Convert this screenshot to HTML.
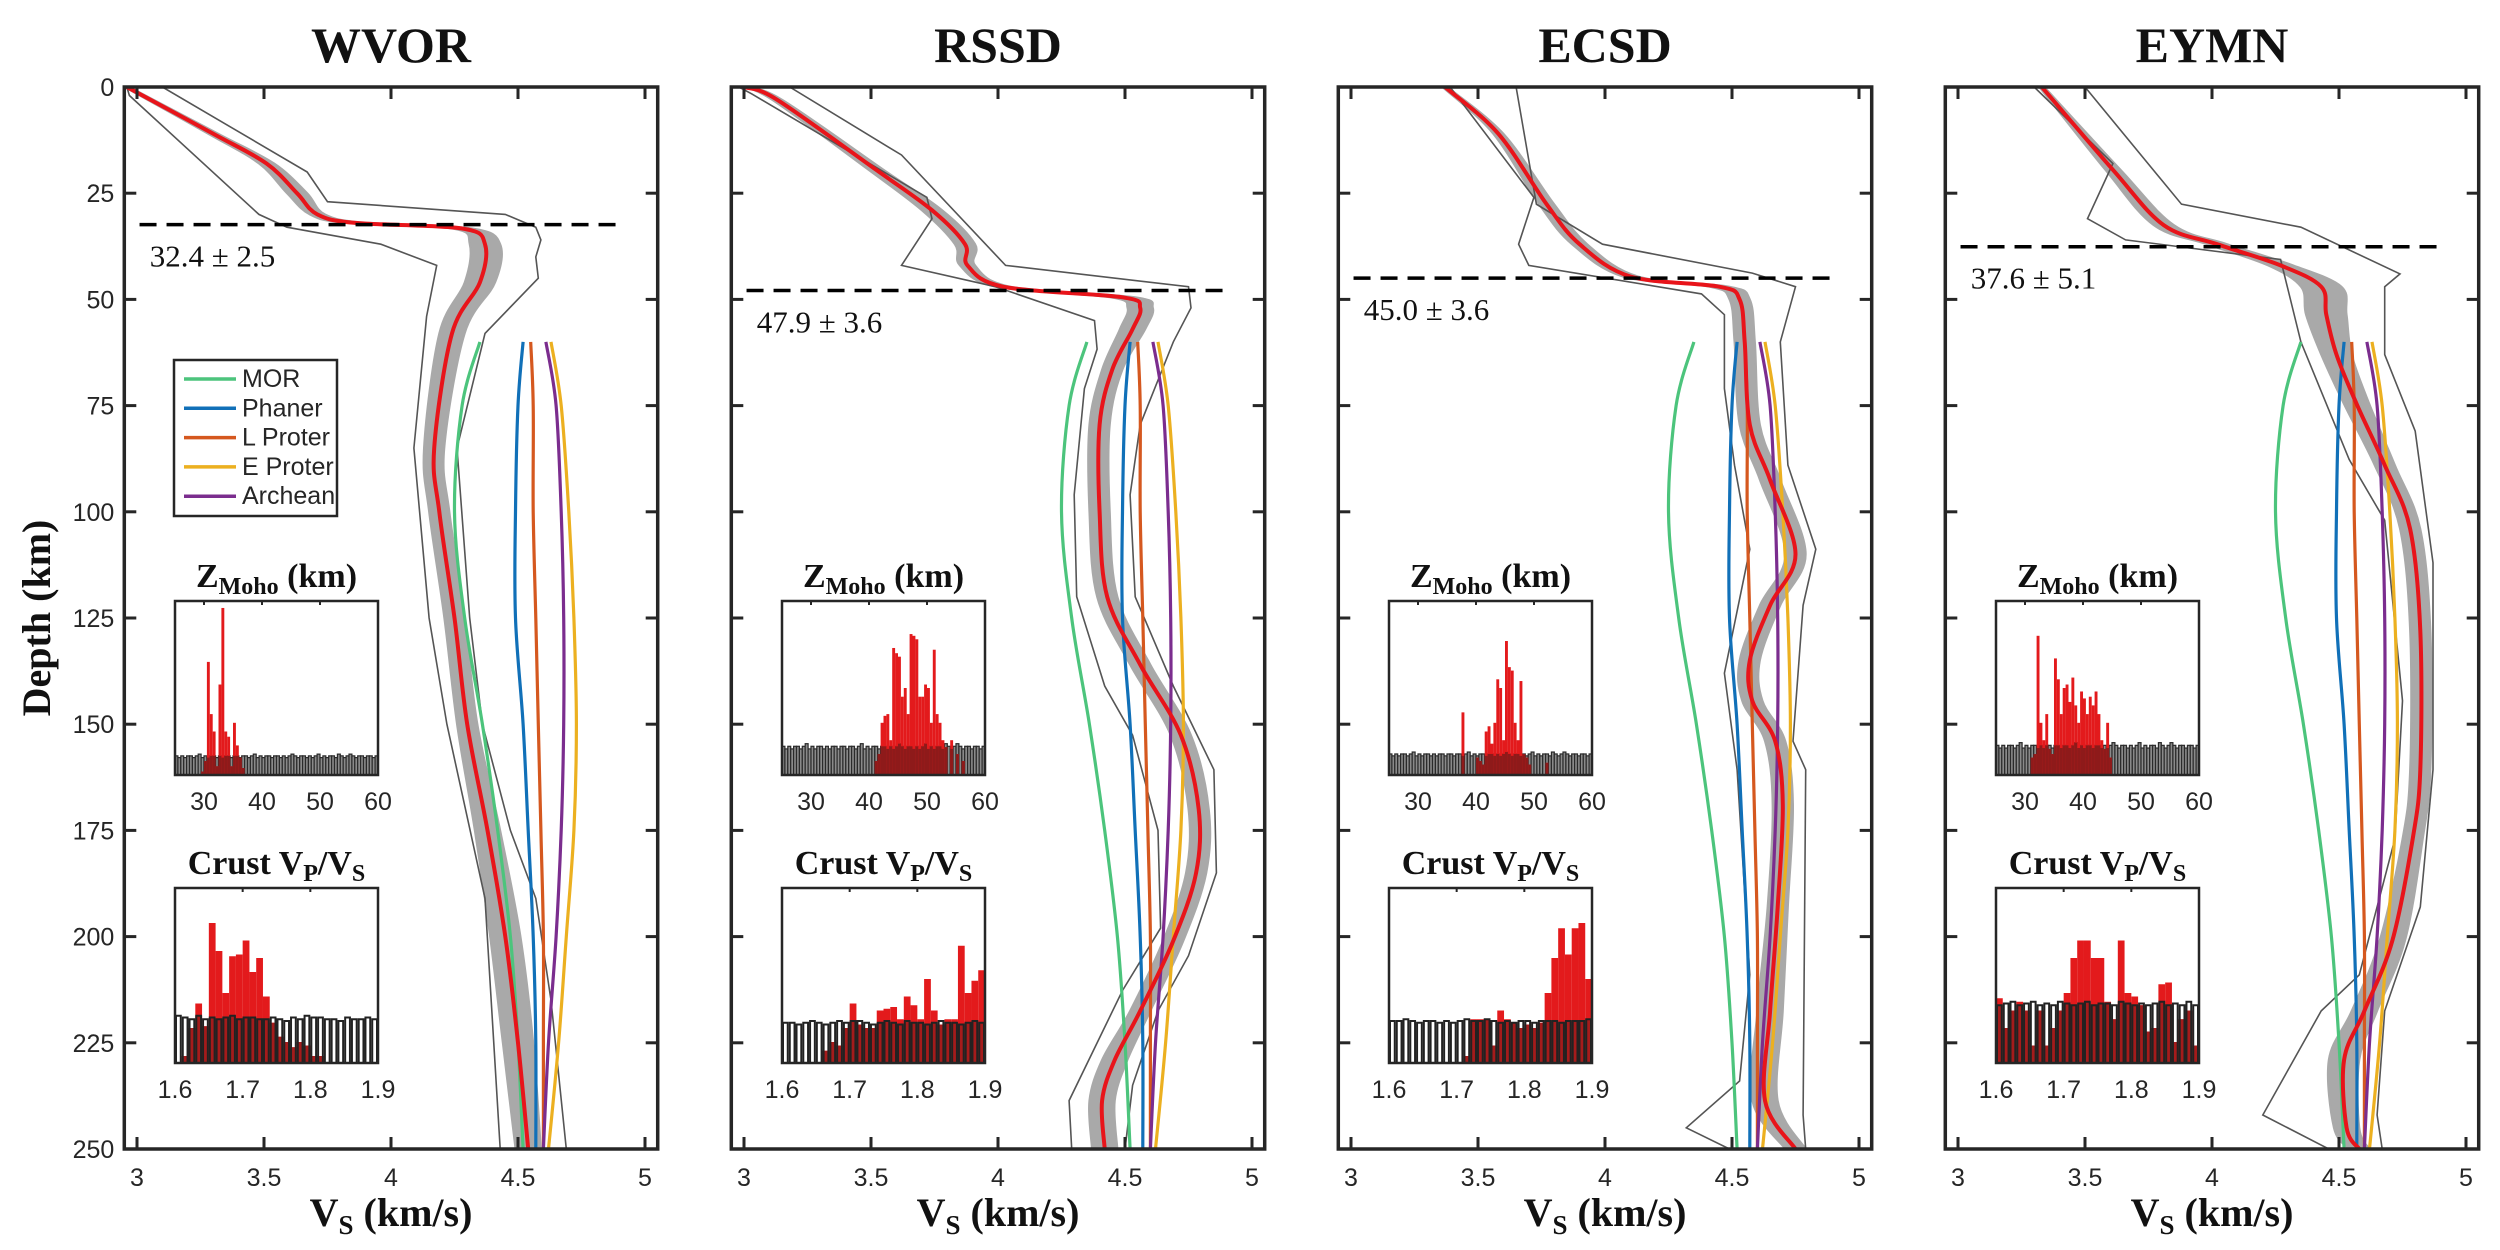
<!DOCTYPE html>
<html><head><meta charset="utf-8"><style>
html,body{margin:0;padding:0;background:#fff}
svg{display:block}
.tick{font-family:"Liberation Sans",sans-serif;font-size:25px;fill:#262626}
.ser{font-family:"Liberation Serif",serif;fill:#111}
</style></head><body>
<svg id="fig" width="2500" height="1250" viewBox="0 0 2500 1250" xmlns="http://www.w3.org/2000/svg">
<text class="ser" font-weight="bold" font-size="40" text-anchor="middle" transform="translate(50,618) rotate(-90)">Depth (km)</text>
</svg>
<script>
// ---------- data ----------
const stations = ["WVOR","RSSD","ECSD","EYMN"];
const mohoDepth = [32.4,47.9,45.0,37.6];
const mohoErr = [2.5,3.6,3.6,5.1];
const xTicks = [3,3.5,4,4.5,5];
const yTicks = [0,25,50,75,100,125,150,175,200,225,250];

const refDepth = [60,75,100,125,150,175,200,225,250];
const refNames = ["MOR","Phaner","L Proter","E Proter","Archean"];
const refMOR = [4.35,4.28,4.25,4.29,4.36,4.42,4.47,4.50,4.52];
const refPhaner = [4.52,4.50,4.49,4.49,4.52,4.54,4.56,4.57,4.57];
const refLProter = [4.55,4.56,4.56,4.57,4.58,4.59,4.60,4.60,4.60];
const refEProter = [4.63,4.67,4.70,4.72,4.73,4.72,4.69,4.66,4.62];
const refArchean = [4.61,4.65,4.67,4.68,4.68,4.67,4.65,4.62,4.60];
const refColors = ["#4cc47c","#1170b8","#d5581f","#ecb020","#7b2d8e"];

// WVOR
const d1 = [0,11,18,25,30,32,33.3,37,46,58,85,100,125,150,175,200,225,250];
const v1 = [2.96,3.30,3.51,3.63,3.71,3.86,4.28,4.37,4.35,4.24,4.17,4.19,4.25,4.30,4.38,4.45,4.50,4.54];
const b1 = [0.01,0.02,0.03,0.04,0.03,0.04,0.04,0.06,0.06,0.05,0.04,0.04,0.04,0.04,0.05,0.06,0.06,0.05];
const lo1d = [0,2,30,33,37,42,54,85,125,150,191,250];
const lo1v = [2.96,2.97,3.48,3.59,3.96,4.18,4.14,4.09,4.15,4.22,4.37,4.43];
const hi1d = [0,20,27,30,33,36,40,45,58,85,125,150,175,191,215,250];
const hi1v = [3.10,3.67,3.75,4.45,4.57,4.59,4.57,4.58,4.37,4.26,4.31,4.36,4.47,4.57,4.63,4.69];
// RSSD
const d2 = [0,3,19.5,29,37,42,47,49.5,52,57,66.5,79.5,100,120,136,152.6,170,185,201,217.5,229,238.6,250];
const v2 = [3.00,3.13,3.52,3.74,3.87,3.88,4.02,4.49,4.56,4.53,4.45,4.40,4.40,4.43,4.56,4.72,4.79,4.78,4.69,4.56,4.46,4.41,4.42];
const b2 = [0.01,0.02,0.03,0.04,0.04,0.03,0.03,0.05,0.05,0.05,0.04,0.04,0.04,0.04,0.04,0.04,0.04,0.04,0.04,0.04,0.05,0.05,0.05];
const lo2d = [0,1.6,26,31,42,47,55,61.7,71,96,120,141,152.6,175,198,212.7,238.6,250];
const lo2v = [2.98,3.03,3.72,3.74,3.62,3.99,4.38,4.39,4.34,4.30,4.31,4.42,4.53,4.63,4.64,4.49,4.28,4.29];
const hi2d = [0,16,42,47,52,60,79.5,96,120,141,160.7,185,204.5,217.5,235,250];
const hi2v = [3.18,3.62,4.03,4.75,4.76,4.69,4.56,4.52,4.54,4.69,4.85,4.86,4.75,4.63,4.53,4.50];
// ECSD
const d3 = [0,11,27.6,37,44.6,47,50,60,79.5,92.5,110,122,135,144.5,154,169,193,217.5,238.6,250];
const v3 = [3.37,3.58,3.77,3.90,4.10,4.45,4.53,4.55,4.57,4.65,4.75,4.65,4.57,4.58,4.67,4.70,4.68,4.65,4.63,4.75];
const b3 = [0.01,0.02,0.03,0.03,0.03,0.04,0.04,0.04,0.04,0.04,0.04,0.04,0.04,0.04,0.04,0.04,0.04,0.05,0.05,0.04];
const lo3d = [0,26,37,42,48.7,53.6,71,89,108.8,138,160.7,209,234,245,250];
const lo3v = [3.39,3.72,3.66,3.70,4.38,4.47,4.47,4.51,4.57,4.47,4.52,4.57,4.53,4.32,4.49];
const hi3d = [0,27.6,37,43.8,47,60,89,108.8,122,154,160.7,242,250];
const hi3v = [3.65,3.73,3.99,4.58,4.75,4.69,4.72,4.83,4.78,4.74,4.79,4.78,4.79];
// EYMN
const d4 = [0,19.5,32.5,37,42,47,53.6,63,74.7,89,104,128,160.7,177,201,217.5,229,245,250];
const v4 = [3.33,3.61,3.81,4.02,4.27,4.43,4.45,4.49,4.57,4.68,4.78,4.82,4.82,4.79,4.71,4.60,4.52,4.53,4.58];
const b4 = [0.01,0.03,0.04,0.04,0.05,0.08,0.08,0.06,0.05,0.04,0.04,0.04,0.04,0.04,0.05,0.05,0.06,0.05,0.04];
const lo4d = [0,18,31,36,40.6,60,87.7,102,144.5,177,209,217.5,242,250];
const lo4v = [3.30,3.61,3.51,3.66,4.27,4.35,4.54,4.68,4.75,4.72,4.58,4.43,4.20,4.46];
const hi4d = [0,27.6,33,44,47,63,81,112,160.7,193,217.5,242,250];
const hi4v = [3.50,3.88,4.35,4.74,4.68,4.68,4.80,4.87,4.87,4.82,4.68,4.65,4.67];

// Moho histograms: 0.5-km bins from 25 to 60
const zmPrior = [0.11,0.10,0.11,0.10,0.11,0.11,0.10,0.11,0.12,0.10,0.11,0.10,0.11,0.11,0.10,0.11,0.10,0.11,0.11,0.10,0.11,0.11,0.10,0.11,0.11,0.10,0.11,0.12,0.10,0.11,0.10,0.11,0.11,0.10,0.11,0.11,0.10,0.11,0.10,0.11,0.12,0.11,0.10,0.11,0.11,0.10,0.11,0.10,0.11,0.12,0.10,0.11,0.10,0.11,0.11,0.10,0.12,0.11,0.10,0.11,0.12,0.11,0.10,0.11,0.11,0.10,0.11,0.11,0.10,0.11];
const zmPriorScale = [1.0,1.5,1.1,1.55];
const zmBins1 = [29.5,30,30.5,31,31.5,32,32.5,33,33.5,34,34.5,35,35.5,36,36.5];
const zmVals1 = [0.02,0.08,0.65,0.35,0.25,0.05,0.52,0.96,0.25,0.22,0.05,0.30,0.17,0.10,0.04];
const zmBins2 = [41,41.5,42,42.5,43,43.5,44,44.5,45,45.5,46,46.5,47,47.5,48,48.5,49,49.5,50,50.5,51,51.5,52,52.5,53,54,55,56];
const zmVals2 = [0.08,0.12,0.30,0.34,0.35,0.20,0.73,0.70,0.68,0.45,0.50,0.35,0.81,0.80,0.78,0.45,0.45,0.52,0.50,0.30,0.72,0.35,0.30,0.20,0.16,0.20,0.12,0.08];
const zmBins3 = [37.5,40,40.5,41,41.5,42,42.5,43,43.5,44,44.5,45,45.5,46,46.5,47,47.5,48,48.5,49,52];
const zmVals3 = [0.36,0.10,0.08,0.06,0.25,0.28,0.18,0.30,0.55,0.50,0.20,0.77,0.62,0.60,0.30,0.20,0.54,0.12,0.10,0.06,0.07];
const zmBins4 = [31,31.5,32,32.5,33,33.5,34,34.5,35,35.5,36,36.5,37,37.5,38,38.5,39,39.5,40,40.5,41,41.5,42,42.5,43,43.5,44,44.5];
const zmVals4 = [0.10,0.12,0.80,0.30,0.20,0.35,0.15,0.12,0.67,0.55,0.35,0.50,0.52,0.42,0.56,0.40,0.30,0.48,0.44,0.35,0.45,0.40,0.48,0.35,0.20,0.15,0.30,0.10];

// Vp/Vs histograms: 30 bins 1.60-1.90
const vpPrior1 = [0.27,0.26,0.25,0.27,0.25,0.26,0.25,0.26,0.27,0.25,0.26,0.26,0.25,0.25,0.26,0.25,0.24,0.26,0.25,0.27,0.26,0.26,0.25,0.25,0.24,0.26,0.25,0.25,0.26,0.25];
const vpPrior2 = [0.23,0.23,0.22,0.23,0.24,0.23,0.22,0.23,0.24,0.23,0.24,0.24,0.23,0.22,0.23,0.24,0.23,0.22,0.24,0.23,0.23,0.22,0.23,0.24,0.23,0.23,0.22,0.23,0.24,0.23];
const vpPrior3 = [0.24,0.24,0.25,0.24,0.23,0.24,0.24,0.23,0.24,0.23,0.24,0.25,0.24,0.24,0.25,0.24,0.23,0.24,0.23,0.24,0.24,0.23,0.24,0.24,0.24,0.23,0.24,0.24,0.24,0.25];
const vpPrior4 = [0.33,0.34,0.35,0.33,0.34,0.35,0.33,0.34,0.33,0.35,0.34,0.33,0.34,0.35,0.33,0.34,0.34,0.33,0.35,0.34,0.33,0.34,0.33,0.34,0.35,0.33,0.34,0.33,0.35,0.33];
const vpRed1 = [0,0.04,0.20,0.34,0.21,0.80,0.64,0.40,0.61,0.62,0.70,0.52,0.60,0.38,0.23,0.15,0.12,0.09,0.12,0.10,0.04,0.04,0,0,0,0,0,0,0,0];
const vpRed2 = [0,0,0,0,0,0,0.07,0.12,0.10,0.20,0.34,0.22,0.20,0.20,0.30,0.31,0.32,0.25,0.38,0.33,0.25,0.48,0.30,0.22,0.25,0.25,0.67,0.40,0.47,0.53];
const vpRed3 = [0,0,0,0,0,0,0,0,0,0,0,0.04,0.25,0.25,0.25,0.10,0.30,0.25,0.23,0.20,0.22,0.20,0.23,0.40,0.60,0.77,0.62,0.77,0.80,0.48];
const vpRed4 = [0.37,0.20,0.30,0.35,0.30,0.10,0.30,0.10,0.20,0.30,0.40,0.60,0.70,0.70,0.60,0.60,0.35,0.25,0.70,0.40,0.38,0.33,0.18,0.20,0.45,0.46,0.12,0.25,0.30,0.10];

const redD=[d1,d2,d3,d4], redV=[v1,v2,v3,v4], bandW=[b1,b2,b3,b4];
const loD=[lo1d,lo2d,lo3d,lo4d], loV=[lo1v,lo2v,lo3v,lo4v], hiD=[hi1d,hi2d,hi3d,hi4d], hiV=[hi1v,hi2v,hi3v,hi4v];
const zmB=[zmBins1,zmBins2,zmBins3,zmBins4], zmV=[zmVals1,zmVals2,zmVals3,zmVals4];
const vpP=[vpPrior1,vpPrior2,vpPrior3,vpPrior4], vpR=[vpRed1,vpRed2,vpRed3,vpRed4];
const refSeries=[refMOR,refPhaner,refLProter,refEProter,refArchean];

// ---------- drawing ----------
const NS="http://www.w3.org/2000/svg";
const svg=document.getElementById('fig');
const X0=137, PSTEP=607, KX=254, TOP=87, BOT=1149, KY=(BOT-TOP)/250;
function xs(p,v){return X0+p*PSTEP+(v-3)*KX;}
function ys(d){return TOP+d*KY;}
function mk(tag,attrs,parent){const e=document.createElementNS(NS,tag);for(const k in attrs)e.setAttribute(k,attrs[k]);(parent||svg).appendChild(e);return e;}
function linePath(pts){return pts.map((q,i)=>(i?'L':'M')+q[0].toFixed(1)+','+q[1].toFixed(1)).join('');}
function smoothSeg(pts){let s='';for(let i=0;i<pts.length-1;i++){const p0=pts[Math.max(0,i-1)],p1=pts[i],p2=pts[i+1],p3=pts[Math.min(pts.length-1,i+2)];s+='C'+(p1[0]+(p2[0]-p0[0])/6).toFixed(1)+','+(p1[1]+(p2[1]-p0[1])/6).toFixed(1)+' '+(p2[0]-(p3[0]-p1[0])/6).toFixed(1)+','+(p2[1]-(p3[1]-p1[1])/6).toFixed(1)+' '+p2[0].toFixed(1)+','+p2[1].toFixed(1);}return s;}
function smoothPath(pts){return 'M'+pts[0][0].toFixed(1)+','+pts[0][1].toFixed(1)+smoothSeg(pts);}

for(let p=0;p<4;p++){
  const g=mk('g',{});
  
  
  const L=xs(p,2.95), R=xs(p,5.05);
  const cid='clip'+p;
  const cp=mk('clipPath',{id:cid},g); mk('rect',{x:L,y:TOP,width:R-L,height:BOT-TOP},cp);
  const plot=mk('g',{'clip-path':'url(#'+cid+')'},g);
  const t=mk('text',{x:(L+R)/2,y:62,'text-anchor':'middle','font-size':50,'font-weight':'bold',class:'ser'},g);
  t.textContent=stations[p];
  
  
  const D=redD[p],V=redV[p],B=bandW[p];
  const up=D.map((d,i)=>[xs(p,V[i]-B[i]),ys(d)]), dn=D.map((d,i)=>[xs(p,V[i]+B[i]),ys(d)]).reverse();
  const bandD=smoothPath(up)+'L'+dn[0][0].toFixed(1)+','+dn[0][1].toFixed(1)+smoothSeg(dn)+'Z';
  const band=mk('path',{d:bandD,fill:'#a9a9a9',stroke:'#a9a9a9','stroke-width':2},plot);
  
  
  [[loD[p],loV[p],'lower-bound'],[hiD[p],hiV[p],'upper-bound']].forEach(a=>{
    const e=mk('path',{d:linePath(a[0].map((d,i)=>[xs(p,a[1][i]),ys(d)])),fill:'none',stroke:'#555','stroke-width':1.6},plot);
    
    
  });
  refSeries.forEach((s,k)=>{
    const e=mk('path',{d:smoothPath(refDepth.map((d,i)=>[xs(p,s[i]),ys(d)])),fill:'none',stroke:refColors[k],'stroke-width':3.2},plot);
    
    
  });
  const m=mk('path',{d:smoothPath(D.map((d,i)=>[xs(p,V[i]),ys(d)])),fill:'none',stroke:'#e8141a','stroke-width':4,'stroke-linejoin':'round'},plot);
  
  
  const my=ys(mohoDepth[p]);
  const ml=mk('line',{x1:xs(p,3.01),x2:xs(p,4.92),y1:my,y2:my,stroke:'#000','stroke-width':3.5,'stroke-dasharray':'17,10'},g);
  
  
  const mt=mk('text',{x:xs(p,3.05),y:my+42,'font-size':31,class:'ser'},g);
  mt.textContent=mohoDepth[p].toFixed(1)+' \u00b1 '+mohoErr[p].toFixed(1);
  
  
  const fr=mk('rect',{x:L,y:TOP,width:R-L,height:BOT-TOP,fill:'none',stroke:'#262626','stroke-width':3.5},g);
  
  
  xTicks.forEach(v=>{
    const x=xs(p,v);
    mk('line',{x1:x,x2:x,y1:BOT,y2:BOT-12,stroke:'#262626','stroke-width':3},g);
    mk('line',{x1:x,x2:x,y1:TOP,y2:TOP+12,stroke:'#262626','stroke-width':3},g);
    const tl=mk('text',{x:x,y:BOT+37,'text-anchor':'middle',class:'tick'},g);
    tl.textContent=String(v);
    
    
  });
  yTicks.forEach(d=>{
    const y=ys(d);
    mk('line',{x1:L,x2:L+12,y1:y,y2:y,stroke:'#262626','stroke-width':3},g);
    mk('line',{x1:R,x2:R-12,y1:y,y2:y,stroke:'#262626','stroke-width':3},g);
    if(p===0){
      const tl=mk('text',{x:L-10,y:y+9,'text-anchor':'end',class:'tick'},g);
      tl.textContent=String(d);
      
      
    }
  });
  const xt=mk('text',{x:(L+R)/2,y:1226,'text-anchor':'middle','font-size':40,'font-weight':'bold',class:'ser'},g);
  xt.innerHTML='V<tspan font-size="27" dy="8">S</tspan><tspan dy="-8"> (km/s)</tspan>';
  
  

  const IX=xs(p,3)+38, IW=203;
  function inset(y0,h,title,lo,hi,ticks,name){
    const ig=mk('g',{},g);
    
    
    mk('rect',{x:IX,y:y0,width:IW,height:h,fill:'#fff'},ig);
    const tt=mk('text',{x:IX+IW/2,y:y0-14,'text-anchor':'middle','font-size':34,'font-weight':'bold',class:'ser'},ig);
    tt.innerHTML=title;
    
    
    ticks.forEach(v=>{
      const x=IX+(v-lo)/(hi-lo)*IW;
      const tl=mk('text',{x:x,y:y0+h+35,'text-anchor':'middle',class:'tick','font-size':24},ig);
      tl.textContent=String(v);
      
      
      mk('line',{x1:x,x2:x,y1:y0,y2:y0+4,stroke:'#262626','stroke-width':2},ig);
    });
    return ig;
  }
  const zy=601, zh=174;
  const zg=inset(zy,zh,'Z<tspan font-size="24" dy="7">Moho</tspan><tspan dy="-7"> (km)</tspan>',25,60,[30,40,50,60],'inset-zmoho');
  const zx=v=>IX+(v-25)/35*IW;
  const bw=IW/70;
  zmPrior.forEach((h,i)=>{
    const hh=h*zmPriorScale[p]*zh;
    const r=mk('rect',{x:IX+i*bw,y:zy+zh-hh,width:bw,height:hh,fill:'#8a8a8a',stroke:'#2a2a2a','stroke-width':1.2},zg);
    
    
  });
  zmB[p].forEach((b,i)=>{
    const hh=zmV[p][i]*zh, ph=Math.min(hh,zmPrior[Math.round((b-25)*2)]*zmPriorScale[p]*zh);
    const r=mk('rect',{x:zx(b),y:zy+zh-hh,width:bw,height:hh,fill:'#e31a1c'},zg);
    
    
    mk('rect',{x:zx(b),y:zy+zh-ph,width:bw,height:ph,fill:'#8e1a1a'},zg);
  });
  mk('rect',{x:IX,y:zy,width:IW,height:zh,fill:'none',stroke:'#262626','stroke-width':2.5},zg);
  const vy=888, vh=175;
  const vg=inset(vy,vh,'Crust V<tspan font-size="24" dy="7">P</tspan><tspan dy="-7">/V</tspan><tspan font-size="24" dy="7">S</tspan>',1.6,1.9,[1.6,1.7,1.8,1.9],'inset-vpvs');
  const vbw=IW/30;
  vpP[p].forEach((h,i)=>{
    const hh=h*vh;
    const r=mk('rect',{x:IX+i*vbw,y:vy+vh-hh,width:vbw,height:hh,fill:'#fff'},vg);
    
    
  });
  vpR[p].forEach((h,i)=>{
    if(h<=0)return;
    const hh=h*vh, ph=Math.min(hh,vpP[p][i]*vh);
    const r=mk('rect',{x:IX+i*vbw,y:vy+vh-hh,width:vbw,height:hh,fill:'#e31a1c'},vg);
    
    
    mk('rect',{x:IX+i*vbw,y:vy+vh-ph,width:vbw,height:ph,fill:'#a51b1b'},vg);
  });
  vpP[p].forEach((h,i)=>{
    const hh=h*vh;
    mk('rect',{x:IX+i*vbw+1,y:vy+vh-hh,width:vbw-2,height:hh,fill:'none',stroke:'#222','stroke-width':2},vg);
  });
  mk('rect',{x:IX,y:vy,width:IW,height:vh,fill:'none',stroke:'#262626','stroke-width':2.5},vg);

  if(p===0){
    const lg=mk('g',{});
    
    
    mk('rect',{x:174,y:360,width:163,height:156,fill:'#fff',stroke:'#262626','stroke-width':2.5},lg);
    refNames.forEach((n,k)=>{
      const y=379+k*29.3;
      const e=mk('g',{},lg);
      
      
      mk('line',{x1:184,x2:236,y1:y,y2:y,stroke:refColors[k],'stroke-width':3.5},e);
      const tx=mk('text',{x:242,y:y+8,class:'tick','font-size':23},e);
      tx.textContent=n;
    });
  }
}
</script>
</body></html>
